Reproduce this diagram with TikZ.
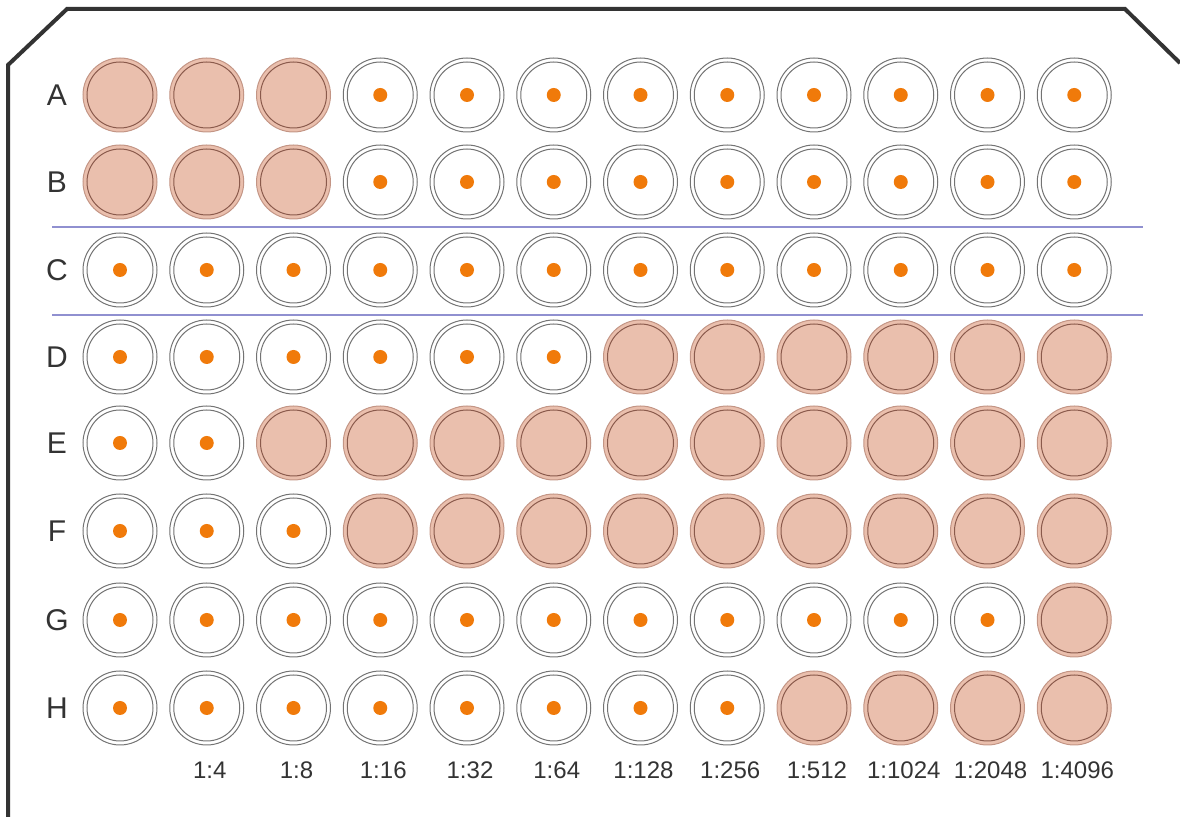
\documentclass[tikz,border=0pt]{standalone}
\usepackage{fontspec}
\setmainfont{Liberation Sans}
\usepackage{xcolor}
\definecolor{pinkWell}{HTML}{EABFAD}
\definecolor{rimWell}{HTML}{C39585}
\definecolor{innerRim}{HTML}{8A5A4C}
\definecolor{dotOrange}{HTML}{F07A0A}
\definecolor{sepBlue}{HTML}{9090D0}
\definecolor{plateGrey}{HTML}{333333}
\usepackage{tikz}
\usetikzlibrary{positioning}

\begin{document}
\begin{tikzpicture}[x=0.5pt,y=-0.5pt,
  well/.style={circle,inner sep=0pt,minimum size=37pt,line width=0.5pt},
  well0/.style={well,draw=black!55,fill=white,
    path picture={\draw[black!55,line width=0.5pt]
        (path picture bounding box.center) circle (16.5pt);
      \fill[dotOrange] (path picture bounding box.center) circle (3.5pt);}},
  well1/.style={well,draw=rimWell,fill=pinkWell,
    path picture={\draw[innerRim,line width=0.5pt]
        (path picture bounding box.center) circle (16.5pt);}},
  rowlbl/.style={text=black!80,font=\fontsize{15}{18}\selectfont},
  dil/.style={text=black!80,font=\fontsize{12}{14}\selectfont},
  sep/.style={draw=sepBlue,line width=0.6pt}]
  \useasboundingbox (0,0) rectangle (1180,817);
  % plate outline
  \draw[plateGrey,line width=2pt] (8,817) -- (8,65) -- (67,9)
    -- (1125,9) -- (1180,63);
  % separators round row C
  \coordinate (sepAl) at (52,227);
  \coordinate (sepAr) at (1143,227);
  \coordinate (sepBl) at (52,315);
  \coordinate (sepBr) at (1143,315);
  \draw[sep] (sepAl) -- (sepAr);
  \draw[sep] (sepBl) -- (sepBr);
  % wells: 1 = filled, 0 = dot
  \foreach \r/\y/\pat in {
    A/95/{1,1,1,0,0,0,0,0,0,0,0,0},
    B/182/{1,1,1,0,0,0,0,0,0,0,0,0},
    C/270/{0,0,0,0,0,0,0,0,0,0,0,0},
    D/357/{0,0,0,0,0,0,1,1,1,1,1,1},
    E/443/{0,0,1,1,1,1,1,1,1,1,1,1},
    F/531/{0,0,0,1,1,1,1,1,1,1,1,1},
    G/620/{0,0,0,0,0,0,0,0,0,0,0,1},
    H/708/{0,0,0,0,0,0,0,0,1,1,1,1}}{
    \node[rowlbl] (lbl\r) at (57,\y) {\r};
    \foreach \v [count=\c] in \pat
      \node[well\v] (\r\c) at ({120+(\c-1)*86.75},\y) {};
  }
  % dilutions
  \foreach \t [count=\c from 2] in {1:4,1:8,1:16,1:32,1:64,1:128,1:256,
      1:512,1:1024,1:2048,1:4096}
    \node[dil] (dil\c) at ({123+(\c-1)*86.75},770) {\t};
\end{tikzpicture}
\end{document}
